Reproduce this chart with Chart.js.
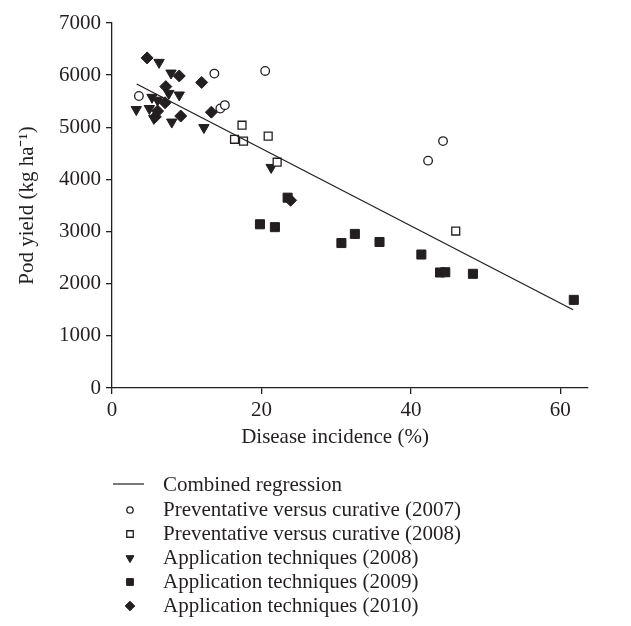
<!DOCTYPE html>
<html>
<head>
<meta charset="utf-8">
<script src="https://cdn.jsdelivr.net/npm/chart.js@4.4.0/dist/chart.umd.min.js"></script>
<style>
  html, body { margin: 0; padding: 0; background: #fff; }
</style>
</head>
<body>
<canvas id="graph1" width="631" height="626"></canvas>
<script>
// valeurs
const xTicks = [0, 20, 40, 60];
const yTicks = [0, 1000, 2000, 3000, 4000, 5000, 6000, 7000];

const prev2007X = [3.6, 13.7, 14.5, 15.1, 20.5, 42.3, 44.3];
const prev2007Y = [5600, 6030, 5360, 5425, 6080, 4360, 4735];

const prev2008X = [17.4, 16.4, 17.6, 20.9, 22.1, 46.0];
const prev2008Y = [5040, 4770, 4735, 4830, 4330, 3010];

const appl2008X = [6.3, 7.9, 9.0, 5.35, 6.1, 3.25, 5.0, 5.6, 8.0, 12.3, 21.3, 7.6];
const appl2008Y = [6245, 6040, 5620, 5575, 5520, 5340, 5360, 5170, 5100, 4995, 4230, 5650];

const appl2009X = [23.5, 19.8, 21.8, 30.7, 32.5, 35.8, 41.4, 43.9, 44.6, 48.3, 61.8];
const appl2009Y = [3650, 3140, 3085, 2780, 2955, 2800, 2560, 2215, 2220, 2190, 1690];

const appl2010X = [4.7, 9.0, 12.0, 7.2, 7.1, 6.1, 5.8, 9.2, 13.3, 23.9];
const appl2010Y = [6330, 5985, 5860, 5780, 5470, 5310, 5200, 5215, 5290, 3600];

const regX = [3.3, 61.7];
const regY = [5830, 1500];

const xTitle = "Disease incidence (%)";
const yTitle = "Pod yield (kg ha\u207B\u00B9)";

const legendLabels = [
  "Combined regression",
  "Preventative versus curative (2007)",
  "Preventative versus curative (2008)",
  "Application techniques (2008)",
  "Application techniques (2009)",
  "Application techniques (2010)"
];

const ink = "#231f20";
const police = "'Liberation Serif', 'Times New Roman', serif";

function pts(xs, ys) {
  let out = [];
  for (let i = 0; i < xs.length; i++) out.push({ x: xs[i], y: ys[i] });
  return out;
}

// titre de l'axe x (décalé à gauche comme sur la figure) + légende une entrée par ligne
const legendePlugin = {
  id: "legende",
  afterDraw(chart) {
    const ctx = chart.ctx;
    const rows = [484, 509, 533, 557, 581, 605];
    ctx.save();
    ctx.font = "21px " + police;
    ctx.fillStyle = ink;
    ctx.textBaseline = "middle";
    ctx.textAlign = "center";
    ctx.fillText(xTitle, 335, 437);
    ctx.textAlign = "left";

    // ligne de régression
    ctx.strokeStyle = ink;
    ctx.lineWidth = 1.2;
    ctx.beginPath();
    ctx.moveTo(113, rows[0]);
    ctx.lineTo(144, rows[0]);
    ctx.stroke();

    for (let i = 1; i < legendLabels.length; i++) {
      const ds = chart.data.datasets[i];
      ctx.fillStyle = ds.backgroundColor;
      ctx.strokeStyle = ink;
      ctx.lineWidth = ds.borderWidth;
      Chart.helpers.drawPoint(ctx, {
        pointStyle: ds.pointStyle,
        radius: ds.legendRadius,
        rotation: ds.pointRotation || 0,
        borderWidth: ds.borderWidth
      }, 130, rows[i] + 1);
    }
    ctx.fillStyle = ink;
    for (let i = 0; i < legendLabels.length; i++) {
      ctx.fillText(legendLabels[i], 163, rows[i] + 1);
    }
    ctx.restore();
  }
};

let ctx = document.getElementById("graph1");

new Chart(ctx, {
  type: "scatter",
  data: {
    datasets: [
      {
        type: "line",
        label: legendLabels[0],
        data: pts(regX, regY),
        borderColor: ink,
        borderWidth: 1.3,
        pointRadius: 0,
        fill: false
      },
      {
        label: legendLabels[1],
        data: pts(prev2007X, prev2007Y),
        pointStyle: "circle",
        pointRadius: 4.3,
        legendRadius: 3.2,
        backgroundColor: "#fff",
        borderColor: ink,
        borderWidth: 1.3
      },
      {
        label: legendLabels[2],
        data: pts(prev2008X, prev2008Y),
        pointStyle: "rect",
        pointRadius: 5.6,
        legendRadius: 4.6,
        backgroundColor: "#fff",
        borderColor: ink,
        borderWidth: 1.3
      },
      {
        label: legendLabels[3],
        data: pts(appl2008X, appl2008Y),
        pointStyle: "triangle",
        pointRotation: 180,
        pointRadius: 6,
        legendRadius: 4.6,
        backgroundColor: ink,
        borderColor: ink,
        borderWidth: 1
      },
      {
        label: legendLabels[4],
        data: pts(appl2009X, appl2009Y),
        pointStyle: "rect",
        pointRadius: 6.4,
        legendRadius: 4.8,
        backgroundColor: ink,
        borderColor: ink,
        borderWidth: 1
      },
      {
        label: legendLabels[5],
        data: pts(appl2010X, appl2010Y),
        pointStyle: "rectRot",
        pointRadius: 6,
        legendRadius: 4.8,
        backgroundColor: ink,
        borderColor: ink,
        borderWidth: 1
      }
    ]
  },
  options: {
    responsive: false,
    animation: false,
    devicePixelRatio: 1,
    layout: { padding: { left: 12, right: 43, top: 23, bottom: 178 } },
    plugins: {
      legend: { display: false },
      tooltip: { enabled: false }
    },
    scales: {
      x: {
        type: "linear",
        min: 0,
        max: 63.7,
        afterFit: s => { s.height = 60; },
        afterBuildTicks: s => { s.ticks = xTicks.map(v => ({ value: v })); },
        grid: { drawOnChartArea: false, drawTicks: true, tickLength: 6, color: ink, lineWidth: 1.3 },
        border: { display: true, color: ink, width: 1.3 },
        ticks: { color: ink, font: { family: police, size: 21 }, padding: 4 },
        title: { display: false }
      },
      y: {
        type: "linear",
        min: 0,
        max: 7000,
        afterFit: s => { s.width = 100; },
        afterBuildTicks: s => { s.ticks = yTicks.map(v => ({ value: v })); },
        grid: { drawOnChartArea: false, drawTicks: true, tickLength: 6, color: ink, lineWidth: 1.3 },
        border: { display: true, color: ink, width: 1.3 },
        ticks: { color: ink, font: { family: police, size: 21 }, padding: 5, callback: v => String(v) },
        title: { display: true, text: yTitle, color: ink, font: { family: police, size: 21 }, padding: 3 }
      }
    }
  },
  plugins: [legendePlugin]
});
</script>
</body>
</html>
